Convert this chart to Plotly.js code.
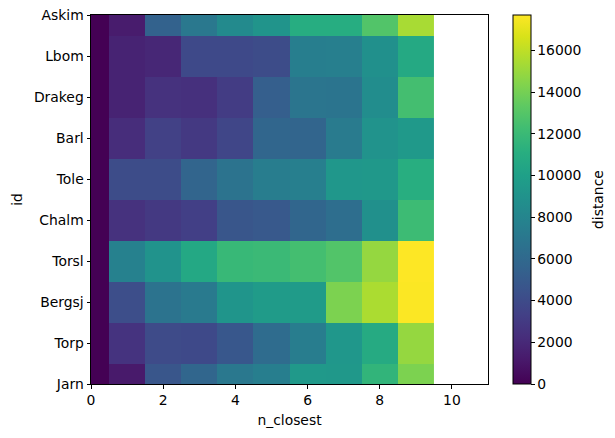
<!DOCTYPE html>
<html>
<head>
<meta charset="utf-8">
<script src="https://cdn.plot.ly/plotly-3.0.1.min.js"></script>
<style>html,body{margin:0;padding:0;background:#fff;}#chart{width:615px;height:438px;}</style>
</head>
<body>
<div id="chart"></div>
<script>
// Categories (top to bottom)
const ids = ["Askim", "Lbom", "Drakeg", "Barl", "Tole", "Chalm", "Torsl", "Bergsj", "Torp", "Jarn"];
// n_closest values (columns)
const nClosest = [0, 1, 2, 3, 4, 5, 6, 7, 8, 9];
// distance per id, for n_closest = 0..9
const askim  = [0, 1300, 5500, 7100, 8400, 9100, 11000, 11000, 12900, 15400];
const lbom   = [0, 1700, 1900, 3900, 3900, 4100, 7500, 7600, 8800, 10700];
const drakeg = [0, 1700, 2500, 2400, 3100, 5300, 6900, 6800, 8600, 12400];
const barl   = [0, 2200, 3400, 2900, 3700, 5800, 5700, 7300, 9000, 9500];
const tole   = [0, 4100, 4100, 5700, 6700, 7400, 7600, 9300, 9400, 11100];
const chalm  = [0, 2500, 2900, 3300, 4700, 4900, 5800, 6400, 8800, 12100];
const torsl  = [0, 7700, 9000, 10600, 11900, 12000, 12400, 12900, 14900, 17700];
const bergsj = [0, 4200, 6700, 7200, 9200, 9600, 9600, 14200, 15500, 17650];
const torp   = [0, 2600, 4000, 3900, 4800, 6200, 7400, 9300, 10800, 14900];
const jarn   = [0, 1200, 4700, 5800, 7100, 7500, 9500, 9400, 11600, 14200];
const xTickVals = [0, 2, 4, 6, 8, 10];
const cbTickVals = [0, 2000, 4000, 6000, 8000, 10000, 12000, 14000, 16000];
const cbTickText = ["0", "2000", "4000", "6000", "8000", "10000", "12000", "14000", "16000"];

const z = [askim, lbom, drakeg, barl, tole, chalm, torsl, bergsj, torp, jarn];

const FONT = "DejaVu Sans, sans-serif";
const FS = 13.9;

const trace = {
  type: "heatmap",
  x: nClosest,
  y: ids,
  z: z,
  colorscale: "Viridis",
  zmin: 0,
  zmax: Math.max(...z.flat()),
  xgap: 0, ygap: 0,
  hoverongaps: false,
  colorbar: {
    x: 1.063, xanchor: "left", xref: "paper",
    y: 0.5, yanchor: "middle",
    len: 1, lenmode: "fraction",
    thickness: 18, thicknessmode: "pixels",
    xpad: 0, ypad: 0,
    outlinewidth: 1, outlinecolor: "#000",
    ticks: "outside", ticklen: 3.5, tickwidth: 1, tickcolor: "#000",
    tickmode: "array", tickvals: cbTickVals, ticktext: cbTickText,
    tickfont: {family: FONT, size: FS, color: "#000"}
  }
};

const layout = {
  width: 615, height: 438,
  margin: {l: 91, r: 127, t: 15, b: 54, pad: 0},
  paper_bgcolor: "#fff", plot_bgcolor: "#fff",
  font: {family: FONT, size: FS, color: "#000"},
  xaxis: {
    range: [0, 11], autorange: false,
    tickvals: xTickVals, ticks: "outside", ticklen: 3.5, tickwidth: 1, tickcolor: "#000",
    showline: true, linecolor: "#000", linewidth: 1, mirror: true,
    showgrid: false, zeroline: false,
    tickfont: {family: FONT, size: FS, color: "#000"},
    title: {text: "n_closest", standoff: 8, font: {family: FONT, size: FS, color: "#000"}},
    automargin: false
  },
  yaxis: {
    type: "category",
    range: [9, 0], autorange: false,
    ticks: "outside", ticklen: 3.5, tickwidth: 1, tickcolor: "#000",
    showline: true, linecolor: "#000", linewidth: 1, mirror: true,
    showgrid: false, zeroline: false,
    tickfont: {family: FONT, size: FS, color: "#000"},
    title: {text: "id", standoff: 8, font: {family: FONT, size: FS, color: "#000"}},
    automargin: false
  },
  annotations: [{
    text: "distance", xref: "paper", yref: "paper",
    x: (597.5 - 91) / 397, y: 0.5, xanchor: "center", yanchor: "middle",
    textangle: -90, showarrow: false,
    font: {family: FONT, size: FS, color: "#000"}
  }]
};

Plotly.newPlot("chart", [trace], layout, {displayModeBar: false, staticPlot: true});
</script>
</body>
</html>
